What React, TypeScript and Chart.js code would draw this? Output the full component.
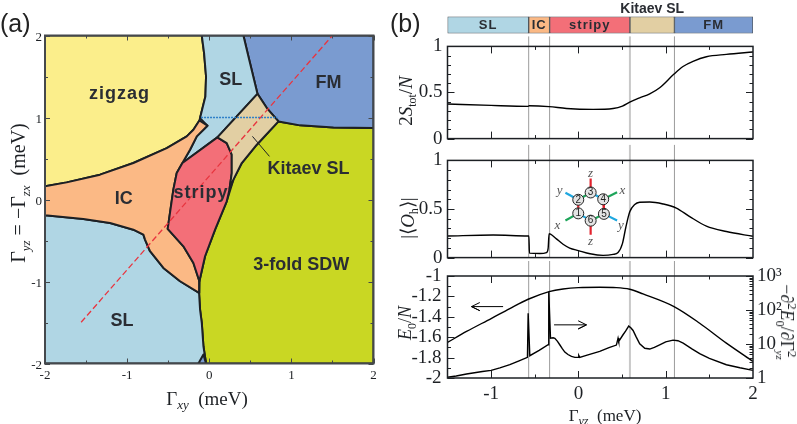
import React, { useEffect, useRef } from "react";
import { Chart, registerables } from "chart.js";

Chart.register(...registerables);

type P = [number, number];

// ---------- (a) phase diagram regions, in meV ----------
const zigzagRegion: P[] = [[-2,2],[-0.091,2],[-0.063,1.785],[-0.039,1.5],[-0.047,1.257],[-0.112,0.993],[-0.12,0.964],[-0.193,0.851],[-0.274,0.77],[-0.518,0.627],[-0.924,0.445],[-1.33,0.303],[-1.736,0.209],[-2,0.16],[-2,2]];
const upperSLRegion: P[] = [[-0.091,2],[0.416,2],[0.477,1.744],[0.587,1.289],[0.099,0.757],[-0.327,0.445],[-0.234,0.607],[-0.152,0.77],[-0.022,0.9],[-0.112,0.993],[-0.047,1.257],[-0.039,1.5],[-0.063,1.785],[-0.091,2]];
const fmRegion: P[] = [[0.416,2],[2,2],[2,0.871],[1.513,0.879],[1.107,0.904],[0.843,0.952],[0.701,1.115],[0.587,1.289],[0.477,1.744],[0.416,2]];
const kitaevRegion: P[] = [[0.587,1.289],[0.701,1.115],[0.843,0.952],[0.579,0.668],[0.396,0.445],[0.294,0.242],[0.246,0.12],[0.274,0.323],[0.274,0.546],[0.213,0.688],[0.099,0.757],[0.587,1.289]];
const stripyRegion: P[] = [[0.099,0.757],[0.213,0.688],[0.274,0.546],[0.274,0.323],[0.246,0.12],[0.213,-0.022],[0.071,-0.368],[-0.051,-0.692],[-0.12,-0.997],[-0.193,-0.774],[-0.315,-0.571],[-0.506,-0.359],[-0.478,-0.164],[-0.437,0.12],[-0.396,0.323],[-0.327,0.445],[0.099,0.757]];
const icRegion: P[] = [[-2,0.16],[-1.736,0.209],[-1.33,0.303],[-0.924,0.445],[-0.518,0.627],[-0.274,0.77],[-0.193,0.851],[-0.12,0.964],[-0.022,0.9],[-0.152,0.77],[-0.234,0.607],[-0.327,0.445],[-0.396,0.323],[-0.437,0.12],[-0.478,-0.164],[-0.506,-0.359],[-0.315,-0.571],[-0.193,-0.774],[-0.12,-0.997],[-0.124,-1.139],[-0.355,-0.997],[-0.558,-0.835],[-0.721,-0.631],[-0.782,-0.489],[-0.802,-0.428],[-0.924,-0.368],[-1.208,-0.286],[-1.533,-0.238],[-2,-0.193],[-2,0.16]];
const lowerSLRegion: P[] = [[-2,-0.193],[-1.533,-0.238],[-1.208,-0.286],[-0.924,-0.368],[-0.802,-0.428],[-0.782,-0.489],[-0.721,-0.631],[-0.558,-0.835],[-0.355,-0.997],[-0.124,-1.139],[-0.112,-1.342],[-0.091,-1.505],[-0.071,-1.789],[-0.039,-2],[-2,-2],[-2,-0.193]];
const sdwRegion: P[] = [[0.843,0.952],[1.107,0.904],[1.513,0.879],[2,0.871],[2,-2],[-0.039,-2],[-0.071,-1.789],[-0.091,-1.505],[-0.112,-1.342],[-0.124,-1.139],[-0.12,-0.997],[-0.051,-0.692],[0.071,-0.368],[0.213,-0.022],[0.294,0.242],[0.396,0.445],[0.579,0.668],[0.843,0.952]];
const fmSliver: P[] = [[-0.132,-2],[-0.071,-1.89],[-0.039,-2],[-0.132,-2]];

const cutLine: P[] = [[-1.56,-1.497],[1.5,2]];
const oneMeVLine: P[] = [[-0.1,1],[0.83,1]];
const kitaevPointer: P[] = [[0.526,0.77],[0.733,0.526]];

const regionLabels = ["zigzag", "SL", "FM", "Kitaev SL", "stripy", "IC", "3-fold SDW", "SL"];
const regionLabelX = [-1.094, 0.262, 1.452, 1.208, -0.1, -1.04, 1.119, -1.062];
const regionLabelY = [1.29, 1.46, 1.42, 0.376, 0.08, 0.01, -0.802, -1.476];
const regionLabelSpacing = [1, 0, 0, 0, 1, 0, 0, 0];

const phaseTicks = [-2, -1, 0, 1, 2];
const phaseMinor = [-1.5, -0.5, 0.5, 1.5];

// ---------- (b) top strip ----------
const phaseNames = ["SL", "IC", "stripy", "", "FM"];
const phaseStart = [-1.5, -0.57, -0.33, 0.59, 1.1];
const phaseEnd = [-0.57, -0.33, 0.59, 1.1, 2];
const phaseColors = ["#b0d6e4", "#fbb985", "#f36f78", "#e2cfa3", "#7a9bd0"];

const boundaries = [-0.57, -0.33, 0.59, 1.1];
const boundaryColors = ["#9c9c9c", "#9c9c9c", "#c8c8c8", "#9c9c9c"];
const boundaryWidths = [1, 1, 2, 1];

// ---------- (b) curves ----------
const spinTotal: P[] = [[-1.5,0.376],[-1,0.36],[-0.576,0.35],[-0.565,0.356],[-0.336,0.347],[-0.137,0.327],[0.168,0.317],[0.397,0.327],[0.504,0.353],[0.588,0.396],[0.702,0.442],[0.817,0.485],[0.931,0.551],[1.095,0.7],[1.198,0.782],[1.313,0.838],[1.466,0.888],[1.695,0.914],[2,0.94]];
const orderParam: P[] = [[-1.5,0.222],[-0.977,0.232],[-0.576,0.222],[-0.568,0.222],[-0.561,0.046],[-0.44,0.042],[-0.366,0.052],[-0.347,0.095],[-0.336,0.245],[-0.32,0.242],[-0.252,0.193],[-0.176,0.137],[-0.1,0.098],[0,0.072],[0.134,0.039],[0.282,0.023],[0.397,0.033],[0.454,0.052],[0.504,0.144],[0.542,0.307],[0.588,0.471],[0.645,0.546],[0.702,0.569],[0.817,0.572],[0.969,0.552],[1.122,0.51],[1.275,0.422],[1.466,0.324],[1.695,0.268],[2,0.219]];
const energy: P[] = [[-1.5,-1.651],[-1.282,-1.544],[-1,-1.417],[-0.786,-1.319],[-0.576,-1.228],[-0.336,-1.153],[-0.176,-1.127],[0,-1.114],[0.244,-1.111],[0.435,-1.114],[0.588,-1.13],[0.74,-1.176],[1.095,-1.3],[1.389,-1.463],[1.695,-1.658],[2,-1.837]];
const susceptibility: P[] = [[-1.5,1.05],[-1.4,1.15],[-1.282,1.31],[-1.1,1.55],[-1,1.68],[-0.9,1.98],[-0.786,2.46],[-0.68,3.2],[-0.584,4.04],[-0.576,80],[-0.557,4.52],[-0.45,6.5],[-0.347,9.5],[-0.34,347],[-0.32,14.9],[-0.29,15.2],[-0.27,14.7],[-0.24,12],[-0.214,9.5],[-0.185,7.3],[-0.156,5.8],[-0.12,4.9],[-0.08,4.3],[-0.04,4.05],[0,4.04],[0.004,4.6],[0.015,4.04],[0.1,4.7],[0.244,6.05],[0.35,7.8],[0.435,9.3],[0.454,14.9],[0.462,11.9],[0.511,18.7],[0.54,24],[0.576,33.5],[0.6,30],[0.626,25],[0.66,16.5],[0.702,10.2],[0.76,7.5],[0.817,7.1],[0.87,8],[0.931,9.5],[1,11.5],[1.084,13],[1.14,12.5],[1.2,10.6],[1.3,7.2],[1.389,5.2],[1.5,3.8],[1.695,2.46],[1.85,2],[2,1.68]];
const energyArrow: P[] = [[-1.13,-1.26],[-1.225,-1.3],[-1.13,-1.34],[-1.225,-1.3],[-0.863,-1.3]];
const suscArrow: P[] = [[-0.003,-1.439],[0.092,-1.479],[-0.003,-1.519],[0.092,-1.479],[-0.279,-1.479]];

const stripTicksMajor = [-1, 0, 1];
const stripTicksMinor = [-0.5, 0.5, 1.5];
const fracMajor = [0, 0.5, 1];
const fracMinor = [0.1, 0.2, 0.3, 0.4, 0.6, 0.7, 0.8, 0.9];
const energyMajor = [-2, -1.8, -1.6, -1.4, -1.2, -1];
const energyMinor = [-1.9, -1.7, -1.5, -1.3, -1.1];
const logMajor = [1, 10, 100, 1000];
const logLabels = ["1", "10", "10²", "10³"];
const logMinor = [2, 3, 4, 5, 6, 7, 8, 9, 20, 30, 40, 50, 60, 70, 80, 90, 200, 300, 400, 500, 600, 700, 800, 900];

// ---------- honeycomb inset, plotted on the middle panel's axes ----------
const nodeNames = ["1", "2", "3", "4", "5", "6"];
const nodeX = [-0.002, -0.002, 0.14, 0.284, 0.292, 0.14];
const nodeY = [0.455, 0.595, 0.67, 0.6, 0.45, 0.38];
const gap: P = [NaN, NaN];
const redBonds: P[] = [[0.14,0.67],[0.14,0.814],gap,[0.14,0.38],[0.14,0.235],gap,[-0.002,0.455],[-0.002,0.595],gap,[0.284,0.6],[0.292,0.45]];
const greenBonds: P[] = [[-0.002,0.455],[-0.149,0.382],gap,[0.284,0.6],[0.443,0.673],gap,[-0.002,0.595],[0.14,0.67],gap,[0.292,0.45],[0.14,0.38]];
const blueBonds: P[] = [[-0.002,0.595],[-0.149,0.667],gap,[0.292,0.45],[0.443,0.382],gap,[0.14,0.67],[0.284,0.6],gap,[0.14,0.38],[-0.002,0.455]];
const bondNames = ["z", "z", "y", "x", "x", "y"];
const bondNameX = [0.14, 0.14, -0.214, 0.504, -0.24, 0.485];
const bondNameY = [0.869, 0.16, 0.693, 0.693, 0.333, 0.333];

const SERIF = "'Liberation Serif'";
const SANS = "'Liberation Sans'";
const INK = "#1d2024";
const LABEL = "#2a2d33";

const pts = (a: P[]) => a.map(([x, y]) => ({ x, y }));

// fills each closed dataset flagged `region` with its backgroundColor, through the points the scales placed
const regionFill = {
  id: "regionFill",
  beforeDatasetDraw(chart: any, args: any) {
    const ds = chart.data.datasets[args.index];
    if (!ds.region) return;
    const pointsEls = args.meta.data;
    const ctx = chart.ctx;
    ctx.save();
    ctx.beginPath();
    pointsEls.forEach((p: any, i: number) => (i ? ctx.lineTo(p.x, p.y) : ctx.moveTo(p.x, p.y)));
    ctx.closePath();
    ctx.fillStyle = ds.backgroundColor;
    ctx.fill();
    ctx.restore();
  },
};

type FrameSpec = {
  xMajor: number[]; xMinor: number[]; yMajor: number[]; yMinor: number[];
  rMajor?: number[]; rMinor?: number[]; major: number; minor: number;
  color: string; width: number; lineUp?: number;
};

const framePlugin = (f: FrameSpec) => ({
  id: "frame",
  beforeDatasetsDraw(chart: any) {
    if (f.lineUp === undefined) return;
    const { ctx, chartArea: a, scales } = chart;
    ctx.save();
    boundaries.forEach((v, i) => {
      const x = scales.x.getPixelForValue(v);
      ctx.strokeStyle = boundaryColors[i];
      ctx.lineWidth = boundaryWidths[i];
      ctx.beginPath();
      ctx.moveTo(x, a.top - (f.lineUp as number));
      ctx.lineTo(x, a.bottom);
      ctx.stroke();
    });
    ctx.restore();
  },
  afterDatasetsDraw(chart: any) {
    const { ctx, chartArea: a, scales } = chart;
    ctx.save();
    ctx.strokeStyle = f.color;
    ctx.lineWidth = 1;
    ctx.beginPath();
    const vert = (vals: number[], len: number) => vals.forEach((v) => {
      const x = Math.round(scales.x.getPixelForValue(v)) + 0.5;
      ctx.moveTo(x, a.bottom); ctx.lineTo(x, a.bottom - len);
      ctx.moveTo(x, a.top); ctx.lineTo(x, a.top + len);
    });
    const horiz = (vals: number[], len: number, scale: any, left: boolean, right: boolean) => vals.forEach((v) => {
      const y = Math.round(scale.getPixelForValue(v)) + 0.5;
      if (left) { ctx.moveTo(a.left, y); ctx.lineTo(a.left + len, y); }
      if (right) { ctx.moveTo(a.right, y); ctx.lineTo(a.right - len, y); }
    });
    vert(f.xMajor, f.major);
    vert(f.xMinor, f.minor);
    const hasR = !!f.rMajor;
    horiz(f.yMajor, f.major, scales.y, true, !hasR);
    horiz(f.yMinor, f.minor, scales.y, true, !hasR);
    if (hasR) {
      horiz(f.rMajor as number[], f.major, scales.yr, false, true);
      horiz(f.rMinor as number[], f.minor, scales.yr, false, true);
    }
    ctx.stroke();
    ctx.lineWidth = f.width;
    ctx.strokeRect(a.left, a.top, a.right - a.left, a.bottom - a.top);
    ctx.restore();
  },
});

const regionTextPlugin = {
  id: "regionText",
  afterDatasetsDraw(chart: any) {
    const { ctx, scales } = chart;
    ctx.save();
    ctx.font = `bold 18px ${SANS}`;
    ctx.fillStyle = LABEL;
    ctx.textAlign = "center";
    ctx.textBaseline = "middle";
    regionLabels.forEach((t, i) => {
      (ctx as any).letterSpacing = `${regionLabelSpacing[i]}px`;
      ctx.fillText(t, scales.x.getPixelForValue(regionLabelX[i]), scales.y.getPixelForValue(regionLabelY[i]));
    });
    ctx.restore();
  },
};

const stripTextPlugin = {
  id: "stripText",
  afterDatasetsDraw(chart: any) {
    const { ctx, scales, chartArea: a } = chart;
    ctx.save();
    ctx.font = `bold 13px ${SANS}`;
    (ctx as any).letterSpacing = "1px";
    ctx.fillStyle = LABEL;
    ctx.textAlign = "center";
    ctx.textBaseline = "middle";
    const mid = (a.top + a.bottom) / 2;
    phaseNames.forEach((t, i) => {
      ctx.fillText(t, scales.x.getPixelForValue((phaseStart[i] + phaseEnd[i]) / 2), mid);
    });
    ctx.font = `bold 14px ${SANS}`;
    (ctx as any).letterSpacing = "0px";
    ctx.fillText("Kitaev SL", scales.x.getPixelForValue((phaseStart[3] + phaseEnd[3]) / 2), a.top - 7.5);
    ctx.restore();
  },
};

const insetTextPlugin = {
  id: "insetText",
  afterDatasetsDraw(chart: any) {
    const { ctx, scales } = chart;
    ctx.save();
    ctx.textAlign = "center";
    ctx.textBaseline = "middle";
    ctx.fillStyle = "#222";
    ctx.font = `10px ${SANS}`;
    nodeNames.forEach((t, i) => ctx.fillText(t, scales.x.getPixelForValue(nodeX[i]), scales.y.getPixelForValue(nodeY[i])));
    ctx.fillStyle = "#555";
    ctx.font = `italic 13px ${SERIF}`;
    bondNames.forEach((t, i) => ctx.fillText(t, scales.x.getPixelForValue(bondNameX[i]), scales.y.getPixelForValue(bondNameY[i])));
    ctx.restore();
  },
};

const sized = (prop: "width" | "height", size: number) => (s: any) => { s[prop] = size; };

const tickOpts = (size: number, padding: number, values: number[], labels?: string[], labelOffset = 0) => ({
  afterBuildTicks: (s: any) => { s.ticks = values.map((value) => ({ value })); },
  ticks: {
    autoSkip: false, maxRotation: 0, minRotation: 0, padding, color: INK, labelOffset,
    font: { family: SERIF, size },
    callback: (v: any) => (labels ? labels[values.indexOf(v)] : String(v)),
  },
  grid: { display: false, drawTicks: false },
  border: { display: false },
});

const line = (data: P[], color: string, width: number, order: number, extra: any = {}) => ({
  type: "scatter", data: pts(data), showLine: true, pointRadius: 0, borderColor: color, borderWidth: width,
  tension: 0, order, ...extra,
});

const curve = (data: P[], order: number, extra: any = {}) =>
  line(data, "#000", 1.4, order, { cubicInterpolationMode: "monotone", ...extra });

const region = (data: P[], fill: string, order: number) => ({
  ...line(data, INK, 2, order, { borderJoinStyle: "round" }), region: true, backgroundColor: fill,
});

const base = (pad: any) => ({
  responsive: false, animation: false, events: [],
  layout: { autoPadding: false, padding: pad },
  plugins: { legend: { display: false }, tooltip: { enabled: false }, title: { display: false } },
});

const CANVASES = [
  { left: 0, top: 0, w: 400, h: 424 },
  { left: 400, top: 0, w: 397, h: 40 },
  { left: 400, top: 30, w: 397, h: 125 },
  { left: 400, top: 144, w: 397, h: 130 },
  { left: 400, top: 255, w: 397, h: 169 },
];
const LEFT_W = 47.5;
const RIGHT_W = 44;

const sp: React.CSSProperties = { position: "absolute", whiteSpace: "nowrap", lineHeight: 1, color: INK, fontFamily: SERIF };
const Sub = ({ children, s = 13, style }: any) => (
  <sub style={{ fontSize: s, lineHeight: 0, fontStyle: "italic", ...style }}>{children}</sub>
);
const Sup = ({ children, s = 13 }: any) => <sup style={{ fontSize: s, lineHeight: 0 }}>{children}</sup>;
const Low = ({ children }: any) => <sub style={{ fontSize: 12, lineHeight: 0 }}>{children}</sub>;
const place = (cx: number, cy: number, rot: number, size: number): React.CSSProperties => ({
  ...sp, left: cx, top: cy, fontSize: size, transform: `translate(-50%,-50%) rotate(${rot}deg)`,
});

export default function App() {
  const refs = useRef<(HTMLCanvasElement | null)[]>([]);

  useEffect(() => {
    const charts: any[] = [];
    const c = refs.current as HTMLCanvasElement[];

    charts.push(new Chart(c[0], {
      type: "scatter",
      data: {
        datasets: [
          line(kitaevPointer, INK, 1, 1),
          line(cutLine, "#e8353f", 1.3, 2, { borderDash: [6, 3] }),
          line(oneMeVLine, "#2f80c8", 1.5, 3, { borderDash: [2, 1] }),
          region(fmSliver, phaseColors[4], 4),
          region(kitaevRegion, phaseColors[3], 5),
          region(stripyRegion, phaseColors[2], 6),
          region(icRegion, phaseColors[1], 7),
          region(upperSLRegion, phaseColors[0], 8),
          region(lowerSLRegion, phaseColors[0], 9),
          region(zigzagRegion, "#fbee8b", 10),
          region(fmRegion, phaseColors[4], 11),
          region(sdwRegion, "#c9d723", 12),
        ] as any,
      },
      options: {
        ...base({ left: 0, top: 35.5, right: 400 - 373.5, bottom: 0 }),
        scales: {
          x: { type: "linear", min: -2, max: 2, afterFit: sized("height", 424 - 363.5), ...tickOpts(13, 4, phaseTicks) },
          y: { type: "linear", min: -2, max: 2, afterFit: sized("width", 45), ...tickOpts(13, 3, phaseTicks, undefined, 2.5) },
        },
      } as any,
      plugins: [regionFill, framePlugin({ xMajor: phaseTicks, xMinor: phaseMinor, yMajor: phaseTicks, yMinor: phaseMinor, major: 5, minor: 3, color: "#45484c", width: 2 }), regionTextPlugin],
    } as any));

    charts.push(new Chart(c[1], {
      type: "bar",
      data: {
        labels: ["phase"],
        datasets: phaseNames.map((n, i) => ({
          label: n || "Kitaev SL",
          data: [[phaseStart[i], phaseEnd[i]]],
          backgroundColor: phaseColors[i],
          borderColor: "#50565c", borderWidth: 1, borderSkipped: false,
          barPercentage: 1, categoryPercentage: 1, grouped: false,
        })),
      },
      options: {
        ...base({ left: LEFT_W, right: RIGHT_W, top: 16.5, bottom: 6.5 }),
        indexAxis: "y",
        scales: {
          x: { type: "linear", min: -1.5, max: 2, display: false },
          y: { type: "category", display: false },
        },
      } as any,
      plugins: [stripTextPlugin],
    } as any));

    charts.push(new Chart(c[2], {
      type: "scatter",
      data: { datasets: [curve(spinTotal, 1)] as any },
      options: {
        ...base({ left: 0, right: RIGHT_W, top: 13, bottom: 11 }),
        scales: {
          x: { type: "linear", min: -1.5, max: 2, display: false },
          y: { type: "linear", min: 0, max: 1, afterFit: sized("width", LEFT_W), ...tickOpts(19, 5, fracMajor) },
        },
      } as any,
      plugins: [framePlugin({ xMajor: stripTicksMajor, xMinor: stripTicksMinor, yMajor: fracMajor, yMinor: fracMinor, major: 7, minor: 3.5, color: INK, width: 1.5, lineUp: 10 })],
    } as any));

    charts.push(new Chart(c[3], {
      type: "scatter",
      data: {
        datasets: [
          { type: "scatter", data: nodeX.map((x, i) => ({ x, y: nodeY[i] })), pointRadius: 5.5, pointBackgroundColor: "#e4e4e4", pointBorderColor: "#222", pointBorderWidth: 1, showLine: false, order: 1 },
          line(redBonds, "#e3232e", 2.2, 2),
          line(greenBonds, "#1ea55a", 2.2, 3),
          line(blueBonds, "#1fa8e0", 2.2, 4),
          curve(orderParam, 5),
        ] as any,
      },
      options: {
        ...base({ left: 0, right: RIGHT_W, top: 15.5, bottom: 13 }),
        scales: {
          x: { type: "linear", min: -1.5, max: 2, display: false },
          y: { type: "linear", min: 0, max: 1, afterFit: sized("width", LEFT_W), ...tickOpts(19, 5, fracMajor) },
        },
      } as any,
      plugins: [framePlugin({ xMajor: stripTicksMajor, xMinor: stripTicksMinor, yMajor: fracMajor, yMinor: fracMinor, major: 7, minor: 3.5, color: INK, width: 1.5, lineUp: 15.5 }), insetTextPlugin],
    } as any));

    charts.push(new Chart(c[4], {
      type: "scatter",
      data: {
        datasets: [
          curve(energy, 1),
          line(energyArrow, "#000", 1, 2),
          line(suscArrow, "#000", 1, 3),
          line(susceptibility, "#000", 1.4, 4, { yAxisID: "yr" }),
        ] as any,
      },
      options: {
        ...base({ left: 0, right: 0, top: 21, bottom: 0 }),
        scales: {
          x: { type: "linear", min: -1.5, max: 2, afterFit: sized("height", 46), ...tickOpts(19, 5, [-1, 0, 1, 2]) },
          y: { type: "linear", min: -2, max: -1, afterFit: sized("width", LEFT_W), ...tickOpts(19, 6, energyMajor) },
          yr: { type: "logarithmic", axis: "y", position: "right", min: 1, max: 1000, afterFit: sized("width", RIGHT_W), ...tickOpts(19, 4, logMajor, logLabels) },
        },
      } as any,
      plugins: [framePlugin({ xMajor: stripTicksMajor, xMinor: stripTicksMinor, yMajor: energyMajor, yMinor: energyMinor, rMajor: logMajor, rMinor: logMinor, major: 7, minor: 3.5, color: INK, width: 1.5, lineUp: 15 })],
    } as any));

    return () => charts.forEach((ch) => ch.destroy());
  }, []);

  return (
    <div style={{ position: "fixed", left: 0, top: 0, width: 797, height: 424, overflow: "hidden", background: "#fff" }}>
      {CANVASES.map((b, i) => (
        <canvas key={i} ref={(el) => { refs.current[i] = el; }} width={b.w} height={b.h}
          style={{ position: "absolute", left: b.left, top: b.top, width: b.w, height: b.h, display: "block" }} />
      ))}
      <span style={{ ...sp, left: 0, top: 11, fontSize: 25, fontFamily: SANS, color: "#222" }}>(a)</span>
      <span style={{ ...sp, left: 390, top: 11, fontSize: 25, fontFamily: SANS, color: "#222" }}>(b)</span>
      <span style={place(207, 398, 0, 19)}>Γ<Sub>xy</Sub> &nbsp;(meV)</span>
      <span style={place(18, 193, -90, 20)}>Γ<Sub>yz</Sub> = −Γ<Sub>zx</Sub> &nbsp;(meV)</span>
      <span style={place(405, 101, -90, 19)}>2<i>S</i><Low>tot</Low>/<i>N</i></span>
      <span style={place(407, 218, -90, 19)}>|⟨<i>O</i><Low>h</Low>⟩|</span>
      <span style={place(405, 323, -90, 18)}><i>E</i><Low>0</Low>/<i>N</i></span>
      <span style={place(787, 322, 90, 18)}>−∂<Sup>2</Sup><i>E</i><Low>0</Low>/∂Γ<Sup>2</Sup><Sub s={11} style={{ marginLeft: -7 }}>yz</Sub></span>
      <span style={place(605, 415, 0, 17)}>Γ<Sub s={12}>yz</Sub> &nbsp;(meV)</span>
    </div>
  );
}
